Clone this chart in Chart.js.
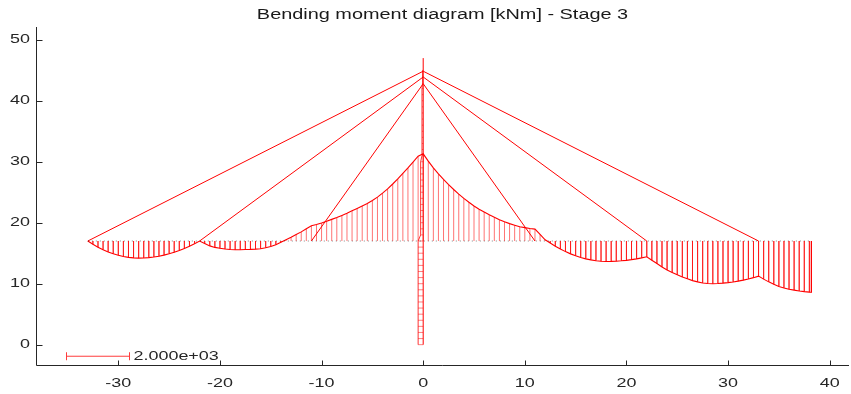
<!DOCTYPE html>
<html>
<head>
<meta charset="utf-8">
<script src="https://cdn.jsdelivr.net/npm/chart.js@4.4.0/dist/chart.umd.min.js"></script>
<style>
    html, body { margin: 0; padding: 0; background: #ffffff; }
    #wrap { width: 851px; height: 394px; }
</style>
</head>
<body>
<div id="wrap"><canvas id="chart" width="851" height="394"></canvas></div>
<script>
// Tick labels
const xTicks = [-30, -20, -10, 0, 10, 20, 30, 40];
const yTicks = [0, 10, 20, 30, 40, 50];

// Deck level and moment curve, one pair of arrays per span (x station, plotted moment level)
const deckLevel = 17;
const span1X = [-33, -32.5, -32, -31.5, -31, -30.5, -30, -29.5, -29, -28.5, -28, -27.5, -27, -26.5, -26, -25.5, -25, -24.5, -24, -23.5, -23, -22.5];
const span1M = [17, 16.47, 15.99, 15.57, 15.21, 14.9, 14.65, 14.45, 14.31, 14.23, 14.2, 14.22, 14.28, 14.38, 14.51, 14.69, 14.9, 15.15, 15.44, 15.78, 16.14, 16.55];
const span2X = [-22, -21.5, -21, -20.5, -20, -19.5, -19, -18.5, -18, -17.5, -17, -16.5, -16, -15.5, -15, -14.5, -14, -13.5, -13, -12.5, -12, -11.5];
const span2M = [17, 16.6, 16.2, 15.95, 15.8, 15.68, 15.6, 15.57, 15.57, 15.6, 15.62, 15.67, 15.74, 15.9, 16.1, 16.4, 16.8, 17.2, 17.6, 18.05, 18.5, 19.0];
const span3X = [-11, -10.5, -10, -9.5, -9, -8.5, -8, -7.5, -7, -6.5, -6, -5.5, -5, -4.5, -4, -3.5, -3, -2.5, -2, -1.5, -1, -0.5];
const span3M = [19.5, 19.7, 19.95, 20.25, 20.55, 20.85, 21.2, 21.55, 21.95, 22.35, 22.75, 23.15, 23.65, 24.2, 24.85, 25.55, 26.35, 27.2, 28.1, 29.0, 29.95, 30.9];
const span4X = [0, 0.5, 1, 1.5, 2, 2.5, 3, 3.5, 4, 4.5, 5, 5.5, 6, 6.5, 7, 7.5, 8, 8.5, 9, 9.5, 10, 10.5, 11];
const span4M = [31.3, 30.1, 29.0, 28.0, 27.1, 26.25, 25.45, 24.7, 24.0, 23.35, 22.75, 22.2, 21.75, 21.3, 20.9, 20.5, 20.15, 19.85, 19.6, 19.35, 19.2, 19.05, 18.95];
const span5X = [11.5, 12, 12.5, 13, 13.5, 14, 14.5, 15, 15.5, 16, 16.5, 17, 17.5, 18, 18.5, 19, 19.5, 20, 20.5, 21, 21.5];
const span5M = [18.1, 17.2, 16.66, 16.15, 15.68, 15.26, 14.89, 14.57, 14.3, 14.07, 13.9, 13.77, 13.68, 13.65, 13.66, 13.69, 13.75, 13.83, 13.94, 14.07, 14.23];
const span6X = [22, 22.5, 23, 23.5, 24, 24.5, 25, 25.5, 26, 26.5, 27, 27.5, 28, 28.5, 29, 29.5, 30, 30.5, 31, 31.5, 32, 32.5];
const span6M = [14.41, 13.85, 13.3, 12.75, 12.25, 11.85, 11.45, 11.1, 10.8, 10.5, 10.3, 10.12, 10.03, 10.0, 10.03, 10.09, 10.17, 10.28, 10.42, 10.58, 10.77, 10.99];
const span7X = [33, 33.5, 34, 34.5, 35, 35.5, 36, 36.5, 37, 37.5, 38, 38.2];
const span7M = [11.24, 10.75, 10.3, 9.9, 9.55, 9.3, 9.1, 8.95, 8.8, 8.7, 8.62, 8.6];

// Pylon (x = 0): height stations and plotted moment offset
const pylonTop = 47;
const pylonY = [0, 1, 2, 3, 4, 5, 6, 7, 8, 9, 10, 11, 12, 13, 14, 15, 16, 17, 18, 19, 20, 21, 22, 23, 24, 25, 26, 27, 28, 29, 30, 31, 32, 33, 34, 35, 36, 37, 38, 39, 40, 41, 42, 43, 44, 45];
const pylonM = [-0.5, -0.5, -0.5, -0.5, -0.5, -0.5, -0.5, -0.5, -0.5, -0.5, -0.5, -0.5, -0.5, -0.5, -0.5, -0.5, -0.5, -0.45, -0.25, -0.25, -0.25, -0.25, -0.25, -0.25, -0.25, -0.25, -0.25, -0.25, -0.25, -0.25, -0.25, -0.12, -0.12, -0.12, -0.12, -0.12, -0.12, -0.12, -0.12, -0.12, -0.12, -0.12, -0.12, -0.06, -0.06, -0.06];

// Stay cables: deck anchor x and pylon anchor height
const cableDeckX = [-33, -22, -11, 11, 22, 33];
const cableTopY = [44.85, 43.9, 42.8, 42.8, 43.9, 44.85];

// Scale bar
const scaleBarX = [-35.1, -28.9];
const scaleBarY = -1.9;
const scaleBarLabel = '2.000e+03';

const red = 'rgb(255, 0, 0)';
const ink = '#262626';

const spans = [[span1X, span1M], [span2X, span2M], [span3X, span3M], [span4X, span4M],
               [span5X, span5M], [span6X, span6M], [span7X, span7M]];

// Linhas de hachura verticais (do tabuleiro até a curva)
const deckHatch = [];
const momentLine = [];
spans.forEach(([xs, ms]) => {
    xs.forEach((x, i) => {
        deckHatch.push({ x: x, y: deckLevel }, { x: x, y: ms[i] }, { x: x, y: null });
        momentLine.push({ x: x, y: ms[i] });
    });
});
const lastX = span7X[span7X.length - 1];
momentLine.push({ x: lastX, y: deckLevel });

// Hachura horizontal do pilone
const pylonHatch = [];
const pylonLine = [];
pylonY.forEach((y, i) => {
    pylonHatch.push({ x: 0, y: y }, { x: pylonM[i], y: y }, { x: null, y: null });
    pylonLine.push({ x: pylonM[i], y: y });
});

const cableSets = cableDeckX.map((x, i) => ({
    data: [{ x: x, y: deckLevel }, { x: 0, y: cableTopY[i] }],
    borderColor: red, borderWidth: 1
}));

const datasets = [
    { data: deckHatch, borderColor: 'rgba(255, 0, 0, 0.55)', borderWidth: 1 },
    { data: [{ x: span1X[0], y: deckLevel }, { x: lastX, y: deckLevel }],
      borderColor: 'rgba(40, 40, 40, 0.55)', borderWidth: 1, borderDash: [1, 3] },
    { data: momentLine, borderColor: red, borderWidth: 1.1 },
    { data: pylonHatch, borderColor: 'rgba(255, 0, 0, 0.5)', borderWidth: 1 },
    { data: pylonLine, borderColor: 'rgba(255, 0, 0, 0.8)', borderWidth: 1 },
    { data: [{ x: 0, y: 0 }, { x: 0, y: pylonTop }], borderColor: red, borderWidth: 1 },
    ...cableSets,
    { data: [{ x: scaleBarX[0], y: scaleBarY }, { x: scaleBarX[1], y: scaleBarY }],
      borderColor: 'rgb(255, 60, 60)', borderWidth: 1 }
];

function stretchText(ctx, str, x, y, size, sx, align, color) {
    ctx.save();
    ctx.font = size + 'px "Liberation Sans", Arial, sans-serif';
    ctx.fillStyle = color;
    ctx.textBaseline = 'middle';
    ctx.textAlign = align;
    ctx.translate(x, y);
    ctx.scale(sx, 1);
    ctx.fillText(str, 0, 0);
    ctx.restore();
}

// Eixos no estilo Octave: linhas esquerda/inferior, ticks para dentro
const axesPlugin = {
    id: 'octaveAxes',
    afterDraw(chart) {
        const ctx = chart.ctx;
        const area = chart.chartArea;
        const xs = chart.scales.x;
        const ys = chart.scales.y;
        const left = Math.round(area.left) + 0.5;
        const bottom = Math.round(area.bottom) - 0.5;

        ctx.save();
        ctx.strokeStyle = ink;
        ctx.lineWidth = 1;
        ctx.beginPath();
        ctx.moveTo(left, Math.round(area.top));
        ctx.lineTo(left, bottom);
        ctx.lineTo(Math.round(area.right), bottom);
        xTicks.forEach(v => {
            const px = Math.round(xs.getPixelForValue(v)) + 0.5;
            ctx.moveTo(px, bottom);
            ctx.lineTo(px, bottom - 5);
        });
        yTicks.forEach(v => {
            const py = Math.round(ys.getPixelForValue(v)) + 0.5;
            ctx.moveTo(left, py);
            ctx.lineTo(left + 6, py);
        });
        ctx.stroke();

        // scale bar end caps
        const sy = ys.getPixelForValue(scaleBarY);
        ctx.strokeStyle = 'rgb(255, 60, 60)';
        ctx.beginPath();
        scaleBarX.forEach(v => {
            const px = Math.round(xs.getPixelForValue(v)) + 0.5;
            ctx.moveTo(px, sy - 4);
            ctx.lineTo(px, sy + 4);
        });
        ctx.stroke();
        ctx.restore();

        xTicks.forEach(v => {
            stretchText(ctx, String(v), xs.getPixelForValue(v), 383, 13, 1.38, 'center', ink);
        });
        yTicks.forEach(v => {
            stretchText(ctx, String(v), 30, ys.getPixelForValue(v), 13, 1.38, 'right', ink);
        });
        stretchText(ctx, 'Bending moment diagram [kNm] - Stage 3',
            (area.left + area.right) / 2, 15, 14, 1.42, 'center', '#1a1a1a');
        stretchText(ctx, scaleBarLabel, xs.getPixelForValue(scaleBarX[1]) + 4, sy, 13, 1.38, 'left', ink);
    }
};

new Chart(document.getElementById('chart'), {
    type: 'scatter',
    data: { datasets: datasets },
    options: {
        responsive: false,
        animation: false,
        devicePixelRatio: 1,
        layout: { padding: { left: 36, right: 2, top: 27, bottom: 28 } },
        elements: {
            point: { radius: 0, hoverRadius: 0 },
            line: { tension: 0, fill: false }
        },
        datasets: { scatter: { showLine: true, spanGaps: false } },
        plugins: { legend: { display: false }, tooltip: { enabled: false }, title: { display: false } },
        scales: {
            x: { type: 'linear', display: false, min: -38.1, max: 41.9 },
            y: { type: 'linear', display: false, min: -3.5, max: 52.1 }
        }
    },
    plugins: [axesPlugin]
});
</script>
</body>
</html>
